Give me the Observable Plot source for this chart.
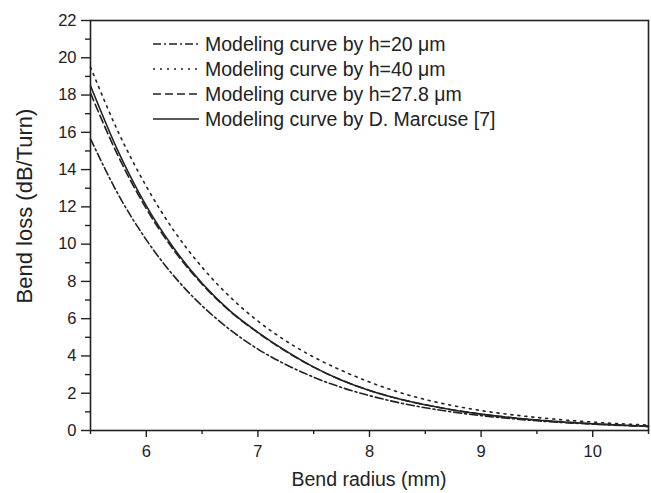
<!DOCTYPE html>
<html><head><meta charset="utf-8">
<script src="https://cdn.jsdelivr.net/npm/d3@7"></script>
<script src="https://cdn.jsdelivr.net/npm/@observablehq/plot@0.6"></script>
<style>
body{margin:0;background:#fff;}
#wrap{position:relative;width:651px;height:493px;font-family:"Liberation Sans",Arial,sans-serif;color:#222;}
</style></head><body><div id="wrap"></div>
<script>
// Bend radius (mm)
const radius = [5.5,5.75,6,6.25,6.5,6.75,7,7.25,7.5,7.75,8,8.25,8.5,8.75,9,9.5,10,10.5];
// Bend loss (dB/Turn) per series
const lossH20 = [15.65,12.65,10.23,8.27,6.69,5.41,4.37,3.54,2.86,2.31,1.87,1.51,1.22,0.99,0.80,0.52,0.34,0.22];
const lossH40 = [19.5,16.0,13.1,10.7,8.76,7.17,5.87,4.81,3.94,3.22,2.6,2.08,1.66,1.33,1.07,0.70,0.45,0.29];
const lossH278 = [18.1,14.7,11.9,9.65,7.85,6.4,5.25,4.25,3.4,2.7,2.15,1.72,1.38,1.1,0.88,0.56,0.36,0.22];
const lossMarcuse = [18.5,14.95,12.05,9.75,7.9,6.42,5.27,4.27,3.4,2.7,2.15,1.72,1.38,1.1,0.88,0.56,0.36,0.22];
const seriesNames = ["Modeling curve by h=20 \u03bcm","Modeling curve by h=40 \u03bcm","Modeling curve by h=27.8 \u03bcm","Modeling curve by D. Marcuse [7]"];
const xMajorTicks = [6,7,8,9,10];
const xMinorTicks = [5.5,6.5,7.5,8.5,9.5,10.5];
const yMajorTicks = [0,2,4,6,8,10,12,14,16,18,20,22];
const yMinorTicks = [1,3,5,7,9,11,13,15,17,19,21];
const xLabel = "Bend radius (mm)";
const yLabel = "Bend loss (dB/Turn)";

const seriesValues = [lossH20, lossH40, lossH278, lossMarcuse];
const dashes = ["8,3,2,3", "2,5", "8,4", null];

const W = 651, H = 493, mL = 90, mR = 3, mT = 20, mB = 63;
const ink = "#222";

const lineMarks = seriesValues.map((vals, i) => {
  const data = radius.map((r, j) => ({r, v: vals[j]}));
  const opts = {x: "r", y: "v", stroke: ink, strokeWidth: 1.6, curve: "monotone-x"};
  if (dashes[i]) opts.strokeDasharray = dashes[i];
  return Plot.line(data, opts);
});

const plot = Plot.plot({
  width: W, height: H,
  marginLeft: mL, marginRight: mR, marginTop: mT, marginBottom: mB,
  style: {fontFamily: '"Liberation Sans", Arial, sans-serif', fontSize: "16px", color: ink, background: "#fff", overflow: "visible"},
  x: {domain: [5.5, 10.5]},
  y: {domain: [0, 22]},
  marks: [
    Plot.axisY(yMajorTicks, {tickSize: 9, tickPadding: 5, label: null, strokeWidth: 1.4}),
    Plot.axisY(yMinorTicks, {tickSize: 5, text: null, label: null, strokeWidth: 1.4}),
    Plot.axisX(xMajorTicks, {tickSize: 7, tickPadding: 8, label: null, strokeWidth: 1.4}),
    Plot.axisX(xMinorTicks, {tickSize: 4, text: null, label: null, strokeWidth: 1.4}),
    ...lineMarks,
    Plot.frame({stroke: ink, strokeWidth: 1.6})
  ]
});
document.getElementById("wrap").appendChild(plot);

const svg = d3.select(plot);
// enlarge the tick labels (the only texts at this point)
svg.selectAll("text").attr("font-size", 16.5).style("font-size", "16.5px");
const fw = W - mL - mR, fh = H - mT - mB;
// axis titles
svg.append("text").attr("x", mL + fw / 2).attr("y", H - 7)
  .attr("text-anchor", "middle").attr("font-size", 19.5).attr("fill", ink).text(xLabel);
svg.append("text").attr("transform", `translate(${mL - 58},${mT + fh / 2 - 19}) rotate(-90)`)
  .attr("text-anchor", "middle").attr("font-size", 22).attr("fill", ink).text(yLabel);
// legend
const lg = svg.append("g").attr("transform", `translate(${mL + 63},${mT + 24})`);
seriesNames.forEach((name, i) => {
  const g = lg.append("g").attr("transform", `translate(0,${i * 25})`);
  const ln = g.append("line").attr("x1", 0).attr("x2", 46).attr("y1", 0).attr("y2", 0)
    .attr("stroke", ink).attr("stroke-width", 1.6);
  if (dashes[i]) ln.attr("stroke-dasharray", dashes[i]);
  g.append("text").attr("x", 52).attr("y", 0).attr("dy", "0.35em")
    .attr("text-anchor", "start")
    .attr("font-size", 19.5).attr("fill", ink).text(name);
});
</script></body></html>
